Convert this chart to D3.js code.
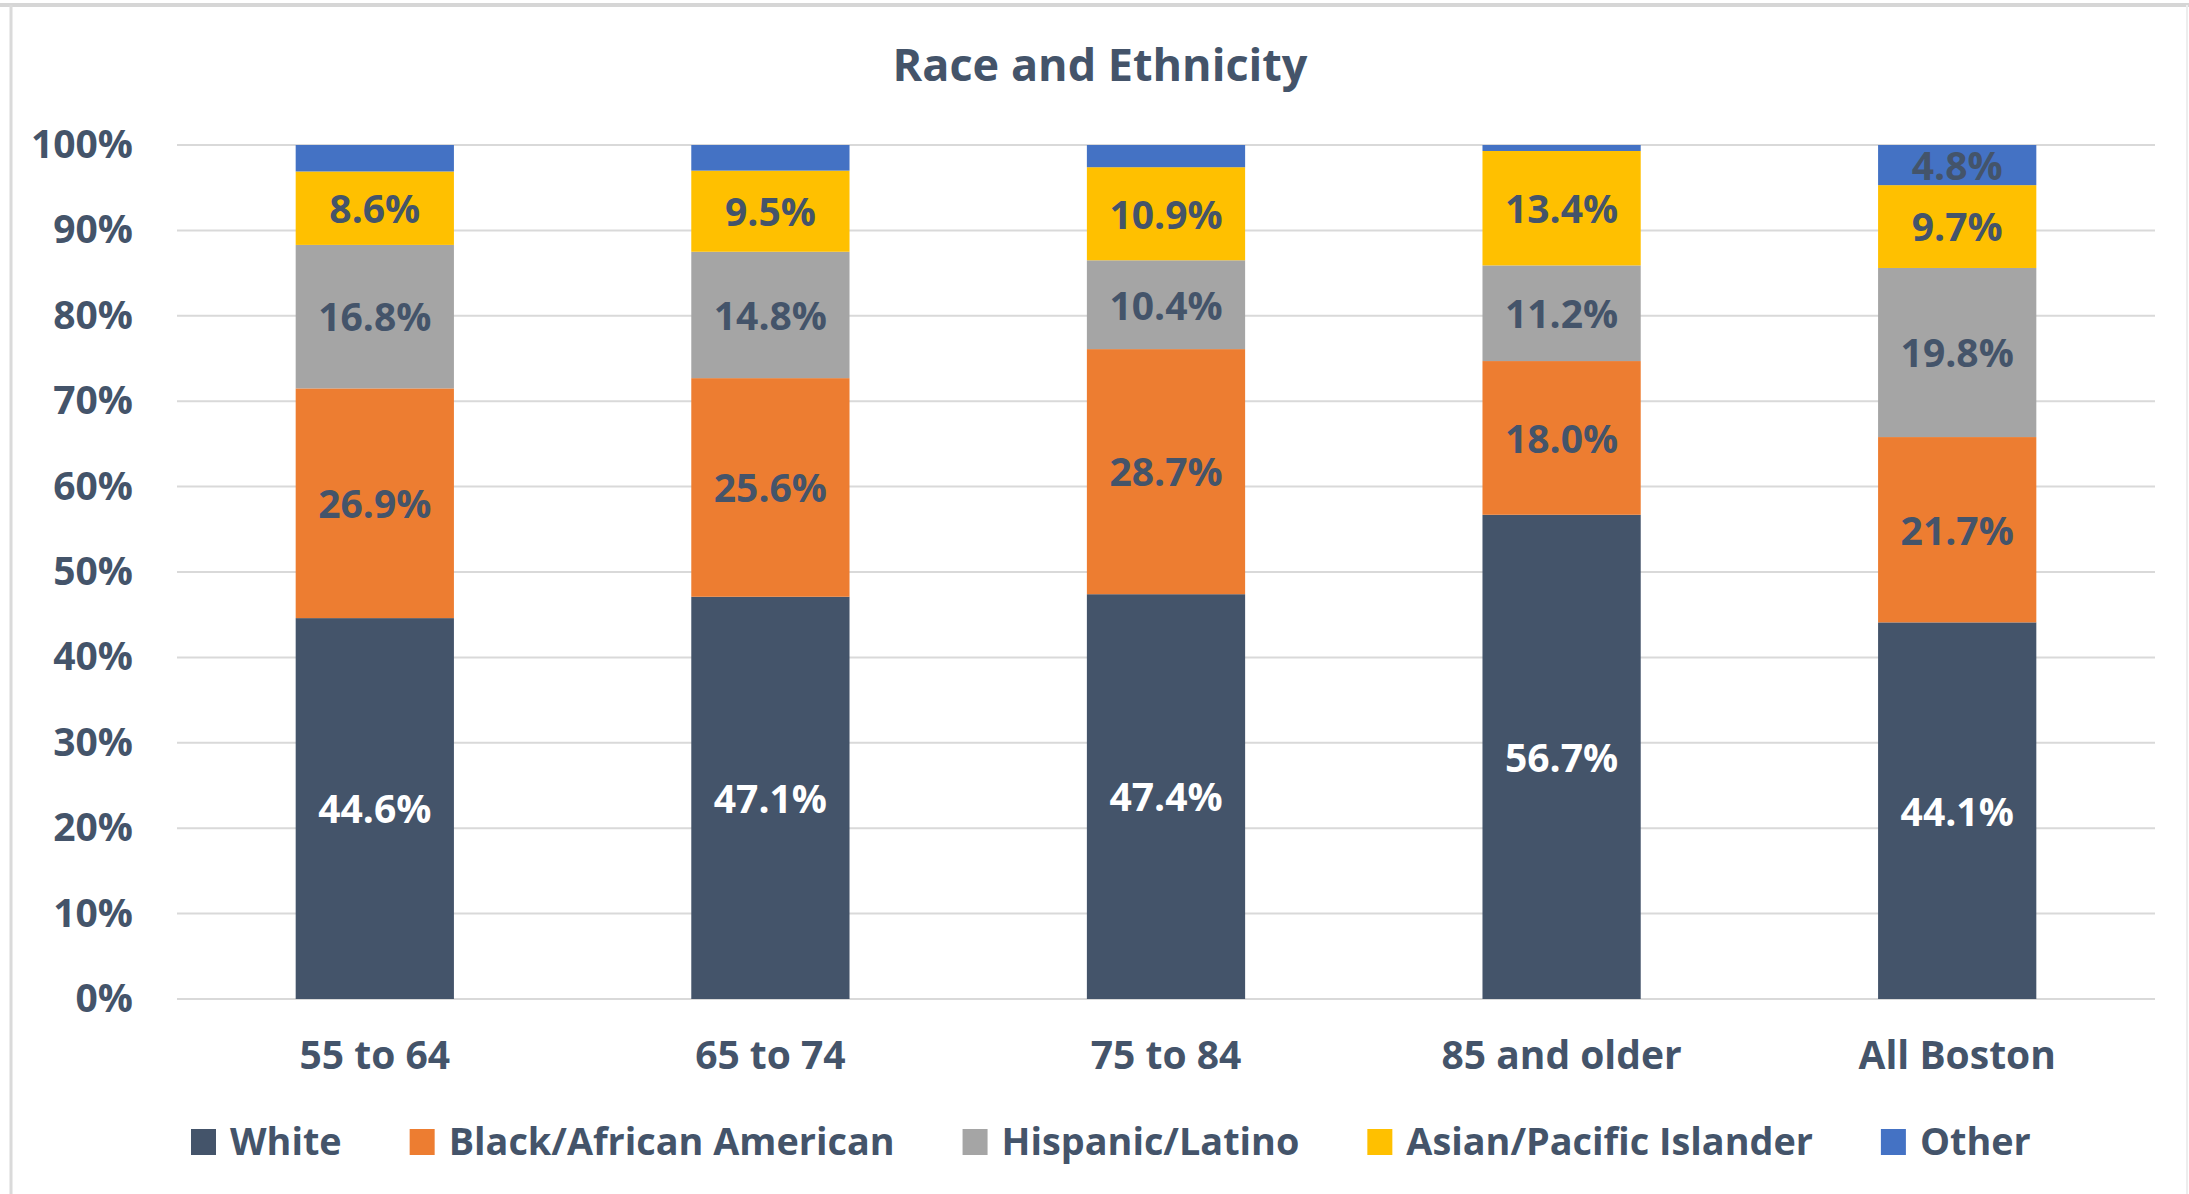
<!DOCTYPE html>
<html>
<head>
<meta charset="utf-8">
<script src="https://cdn.jsdelivr.net/npm/d3@7"></script>
<style>
  html, body { margin: 0; padding: 0; background: #ffffff; }
  svg { display: block; }
  text { font-family: "Open Sans", "DejaVu Sans", sans-serif; font-weight: 700; }
</style>
</head>
<body>
<svg id="chart" width="2189" height="1194"></svg>
<script>
// ---- Data ----
const categories = ["55 to 64", "65 to 74", "75 to 84", "85 and older", "All Boston"];
const seriesNames = ["White", "Black/African American", "Hispanic/Latino", "Asian/Pacific Islander", "Other"];
const white    = [44.6, 47.1, 47.4, 56.7, 44.1];
const black    = [26.9, 25.6, 28.7, 18.0, 21.7];
const hispanic = [16.8, 14.8, 10.4, 11.2, 19.8];
const asian    = [8.6, 9.5, 10.9, 13.4, 9.7];
const other    = [3.1, 3.0, 2.6, 0.7, 4.8];
const showOtherLabel = [false, false, false, false, true];
const yTicks = [0, 10, 20, 30, 40, 50, 60, 70, 80, 90, 100];
const yTickLabels = ["0%", "10%", "20%", "30%", "40%", "50%", "60%", "70%", "80%", "90%", "100%"];
const titleText = "Race and Ethnicity";

// ---- Styling ----
const colors = ["#44546A", "#ED7D31", "#A5A5A5", "#FFC000", "#4472C4"];
const labelColors = ["#FFFFFF", "#44546A", "#44546A", "#44546A", "#44546A"];
const textColor = "#44546A";

const svg = d3.select("#chart");
const W = 2189, H = 1194;

// Frame
svg.append("rect").attr("x", 0).attr("y", 0).attr("width", W).attr("height", H).attr("fill", "#fff");
svg.append("line").attr("x1", 0).attr("x2", W).attr("y1", 5).attr("y2", 5)
  .attr("stroke", "#D6D6D6").attr("stroke-width", 4);
svg.append("line").attr("x1", 11).attr("x2", 11).attr("y1", 5).attr("y2", H)
  .attr("stroke", "#DADADA").attr("stroke-width", 3);
svg.append("line").attr("x1", 2187).attr("x2", 2187).attr("y1", 5).attr("y2", H)
  .attr("stroke", "#EDEDED").attr("stroke-width", 2);

const plot = { left: 177, right: 2155, top: 145, bottom: 999 };

const x = d3.scaleBand().domain(categories).range([plot.left, plot.right]).paddingInner(0.6).paddingOuter(0.3);
const y = d3.scaleLinear().domain([0, 100]).range([plot.bottom, plot.top]);

// Title
svg.append("text").attr("x", 1100).attr("y", 81).attr("text-anchor", "middle")
  .attr("font-size", 45).attr("fill", textColor).text(titleText);

// Gridlines
svg.append("g").selectAll("line").data(yTicks).join("line")
  .attr("x1", plot.left).attr("x2", plot.right)
  .attr("y1", d => y(d)).attr("y2", d => y(d))
  .attr("stroke", "#D9D9D9").attr("stroke-width", 2);

// Y axis
const yAxis = d3.axisLeft(y).tickValues(yTicks).tickFormat((d, i) => yTickLabels[i]).tickSize(0).tickPadding(44);
const gy = svg.append("g").attr("transform", `translate(${plot.left},0)`).call(yAxis);
gy.select(".domain").remove();
gy.selectAll("text").attr("font-size", 39).attr("fill", textColor)
  .attr("font-family", '"Open Sans", sans-serif').attr("font-weight", 700);

// X axis
const xAxis = d3.axisBottom(x).tickSize(0).tickPadding(42);
const gx = svg.append("g").attr("transform", `translate(0,${plot.bottom})`).call(xAxis);
gx.select(".domain").remove();
gx.selectAll("text").attr("font-size", 39).attr("fill", textColor)
  .attr("font-family", '"Open Sans", sans-serif').attr("font-weight", 700);

// Stack
const rows = categories.map((c, i) => ({
  cat: c, i,
  "White": white[i], "Black/African American": black[i], "Hispanic/Latino": hispanic[i],
  "Asian/Pacific Islander": asian[i], "Other": other[i]
}));
const stacked = d3.stack().keys(seriesNames)(rows);

const layers = svg.append("g").selectAll("g").data(stacked).join("g")
  .attr("fill", (d, i) => colors[i]);
layers.selectAll("rect").data(d => d).join("rect")
  .attr("x", d => x(d.data.cat))
  .attr("width", x.bandwidth())
  .attr("y", d => y(Math.min(d[1], 100)))
  .attr("height", d => y(d[0]) - y(Math.min(d[1], 100)));

// Labels
const lab = svg.append("g");
stacked.forEach((layer, si) => {
  layer.forEach((d, ci) => {
    if (si === 4 && !showOtherLabel[ci]) return;
    const top = Math.min(d[1], 100);
    const cy = (y(d[0]) + y(top)) / 2;
    lab.append("text")
      .attr("x", x(d.data.cat) + x.bandwidth() / 2)
      .attr("y", cy)
      .attr("dy", "0.38em")
      .attr("text-anchor", "middle")
      .attr("font-size", 39)
      .attr("fill", labelColors[si])
      .text(d.data[seriesNames[si]].toFixed(1) + "%");
  });
});

// Legend
const legend = svg.append("g");
let lx = 191;
const ly = 1155;
seriesNames.forEach((name, i) => {
  legend.append("rect").attr("x", lx).attr("y", ly - 26).attr("width", 25).attr("height", 26).attr("fill", colors[i]);
  const t = legend.append("text").attr("x", lx + 39).attr("y", ly)
    .attr("font-size", 37.8).attr("fill", textColor).text(name);
  lx += 39 + t.node().getComputedTextLength() + 68;
});
</script>
</body>
</html>
